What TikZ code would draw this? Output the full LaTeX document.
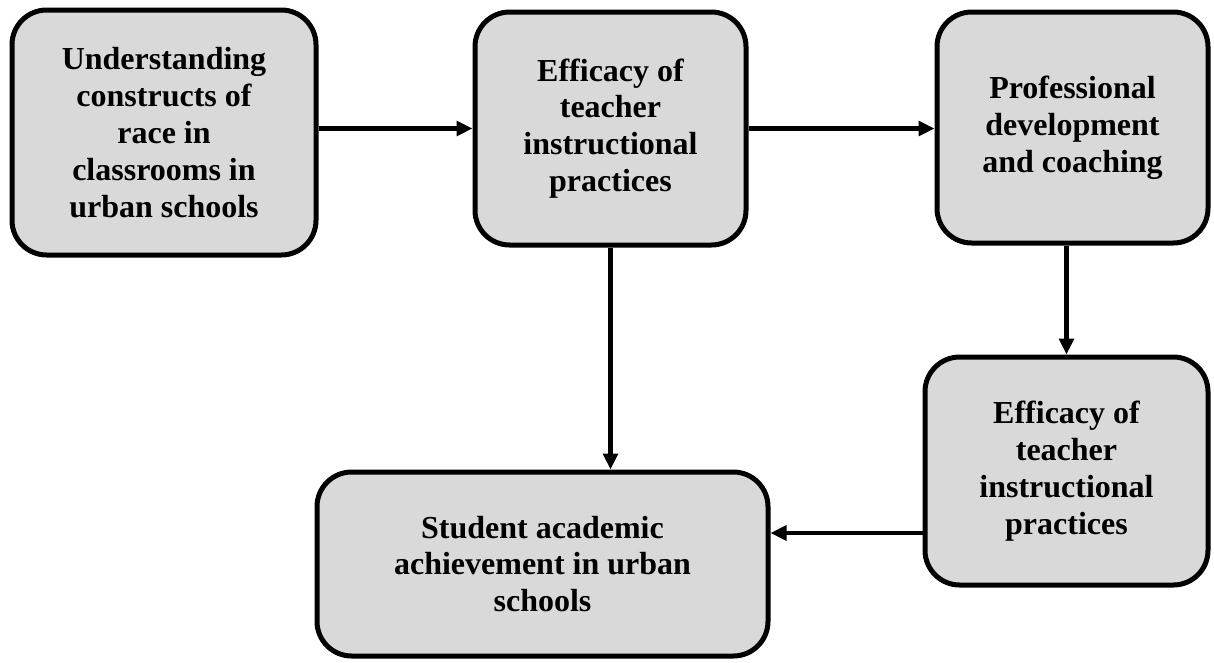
\documentclass[tikz,border=0pt]{standalone}
\usepackage{fontspec}
\setmainfont{Liberation Serif}
\usetikzlibrary{arrows.meta}
\definecolor{boxgray}{RGB}{217,217,217}

\begin{document}
\begin{tikzpicture}[x=0.75pt,y=-0.75pt,
    stagebox/.style={draw=black,line width=3.75pt,fill=boxgray,rounded corners=26pt,inner sep=0pt,align=center,
      font=\bfseries\fontsize{24}{27.6}\selectfont},
    flow/.style={line width=3.6pt,-{Triangle[length=12pt,width=11pt]}}]
  \useasboundingbox (0,0) rectangle (1214,662);
  \node[stagebox,minimum width=228pt,minimum height=183.75pt] (understand) at (164,132.5)
    {Understanding\\constructs of\\race in\\classrooms in\\urban schools};
  \node[stagebox,minimum width=203.25pt,minimum height=174.75pt] (efficacy) at (610.5,128.5)
    {Efficacy of\\teacher\\instructional\\practices};
  \node[stagebox,minimum width=203.25pt,minimum height=173.25pt] (profdev) at (1072.5,127.5)
    {Professional\\development\\and coaching};
  \node[stagebox,minimum width=212.25pt,minimum height=171pt] (efficacytwo) at (1066.5,471)
    {Efficacy of\\teacher\\instructional\\practices};
  \node[stagebox,minimum width=338.25pt,minimum height=138pt] (achieve) at (542.5,564)
    {Student academic\\achievement in urban\\schools};
  \coordinate (back) at ([yshift=-46.5pt]efficacytwo.west);
  \draw[flow] (understand.east |- efficacy.west) -- (efficacy.west);
  \draw[flow] (efficacy.east) -- (profdev.west |- efficacy.east);
  \draw[flow] (efficacy.south) -- (achieve.north -| efficacy.south);
  \draw[flow] (efficacytwo.north |- profdev.south) -- (efficacytwo.north);
  \draw[flow] (back) -- (back -| achieve.east);
\end{tikzpicture}
\end{document}
